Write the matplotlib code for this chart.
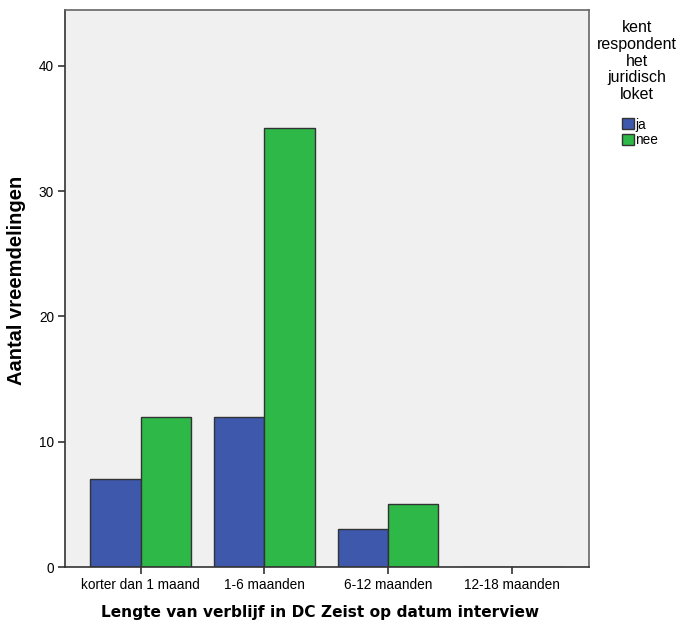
import matplotlib.pyplot as plt
import numpy as np
from matplotlib.patches import Patch

# %% data
categories = ['korter dan 1 maand', '1-6 maanden', '6-12 maanden', '12-18 maanden']
ja = [7, 12, 3, 0]
nee = [12, 35, 5, 0]
series_names = ['ja', 'nee']
yticks = [0, 10, 20, 30, 40]

blue = '#3E58AC'
green = '#2EB848'

# %% plot
fig = plt.figure(figsize=(6.8, 6.24), dpi=100)
ax = fig.add_axes([0.0956, 0.0913, 0.866 - 0.0956, 0.984 - 0.0913])
ax.set_facecolor('#F0F0F0')

x = np.arange(len(categories))
w = 0.405
ax.bar(x - w / 2, ja, w, color=blue, edgecolor='#333333', linewidth=1)
ax.bar(x + w / 2, nee, w, color=green, edgecolor='#333333', linewidth=1)

ax.set_xlim(-0.61, 3.62)
ax.set_ylim(0, 44.45)
ax.set_yticks(yticks)
ax.set_xticks(x)
ax.set_xticklabels(categories, fontfamily='Liberation Sans', fontsize=9.8)
for lab in ax.get_yticklabels():
    lab.set_fontfamily('Liberation Sans')
    lab.set_fontsize(9.8)
ax.tick_params(length=5, width=1.2, color='#333333', pad=3)
for s in ax.spines.values():
    s.set_color('#666666')
    s.set_linewidth(1.2)
ax.spines['left'].set_color('#333333')
ax.spines['bottom'].set_color('#333333')

ax.set_xlabel('Lengte van verblijf in DC Zeist op datum interview',
              fontweight='bold', fontsize=11.1)
ax.xaxis.set_label_coords(0.4876, -0.069)
ax.set_ylabel('Aantal vreemdelingen', fontweight='bold', fontsize=14.5,
              fontfamily='Liberation Sans')
ax.yaxis.set_label_coords(-0.074, 0.515)

# legend
fig.text(637 / 680, 1 - 20 / 624, 'kent\nrespondent\nhet\njuridisch\nloket',
         ha='center', va='top', fontfamily='Liberation Sans', fontsize=11.5,
         linespacing=1.15)
handles = [Patch(facecolor=blue, edgecolor='#333333'),
           Patch(facecolor=green, edgecolor='#333333')]
fig.legend(handles, series_names, loc='upper left',
           bbox_to_anchor=(612 / 680, 1 - 108 / 624), frameon=False,
           prop={'family': 'Liberation Sans', 'size': 9.8},
           handlelength=0.9, handleheight=0.9, handletextpad=0.1,
           labelspacing=0.1, borderpad=0.2)

fig.savefig('out.png', dpi=100)
